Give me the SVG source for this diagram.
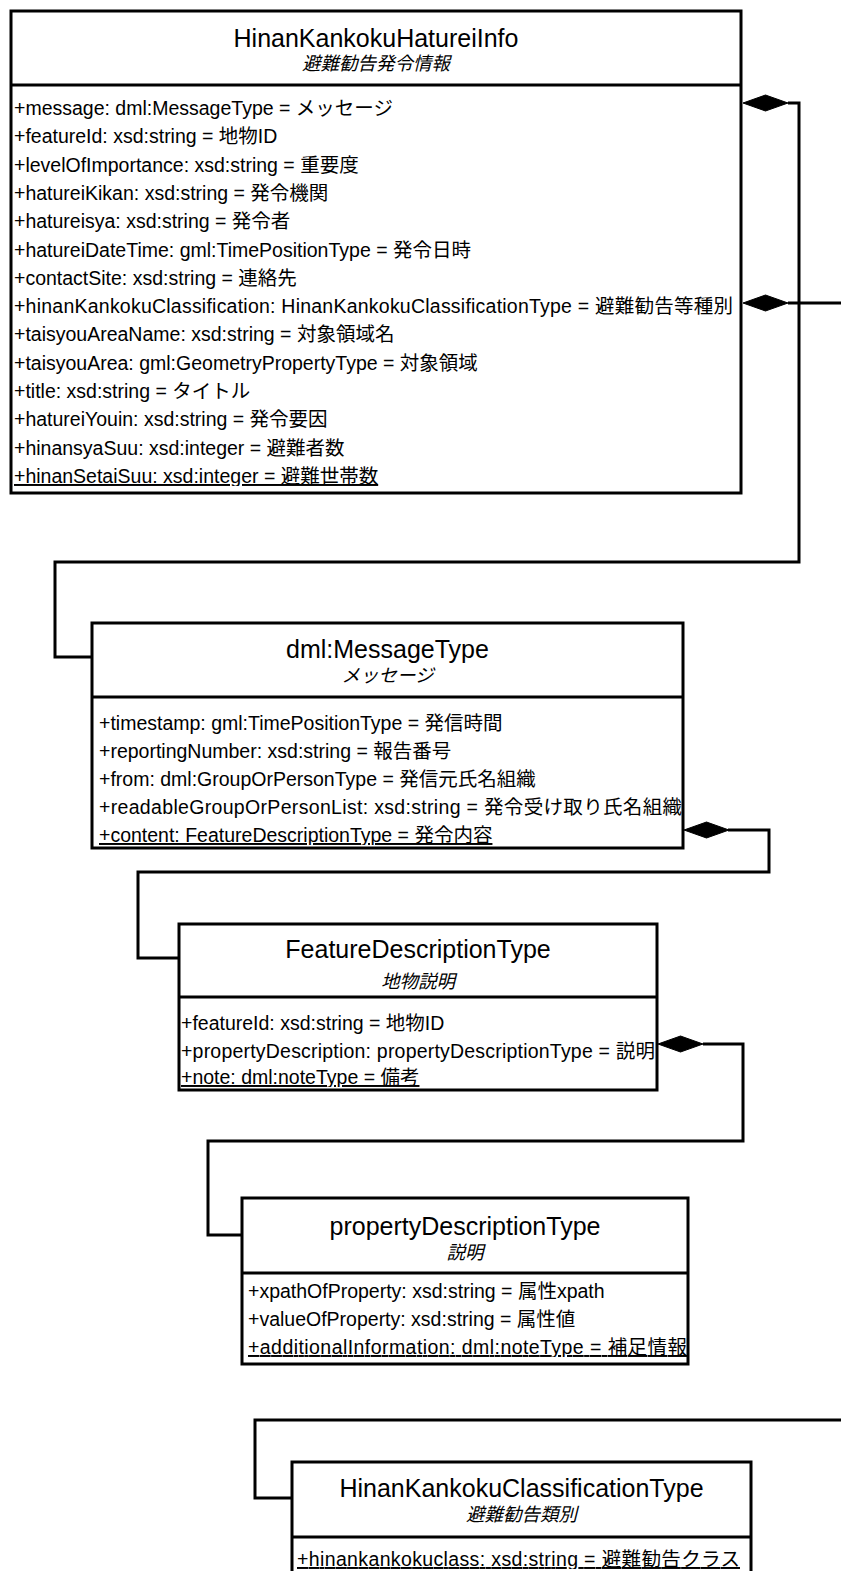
<svg xmlns="http://www.w3.org/2000/svg" xmlns:xlink="http://www.w3.org/1999/xlink" width="841" height="1571" viewBox="0 0 841 1571">
  <style>
    .box { fill: #fff; stroke: #000; stroke-width: 3; }
    .sep { stroke: #000; stroke-width: 3; }
    .conn { fill: none; stroke: #000; stroke-width: 3; }
    .dia { fill: #000; stroke: #000; stroke-width: 1; }
    text { font-family: "Liberation Sans", "Noto Sans CJK JP", sans-serif; fill: #000; }
    .t { font-size: 25px; text-anchor: middle; }
    .s { font-size: 18.5px; font-style: italic; text-anchor: middle; }
    .a { font-size: 19.5px; }
    .u { text-decoration: underline; }
  </style>
  <defs>
    <!-- filled composition diamond, tip at origin pointing left -->
    <path id="diamond" class="dia" d="M0,0 L22.5,-8 L45,0 L22.5,8 Z"/>
    <clipPath id="clip1"><rect x="11" y="11" width="730" height="475"/></clipPath>
    <clipPath id="clip2"><rect x="92" y="623" width="591" height="222"/></clipPath>
    <clipPath id="clip3"><rect x="179" y="924" width="478" height="163"/></clipPath>
    <clipPath id="clip4"><rect x="242" y="1198" width="446" height="159"/></clipPath>
    <clipPath id="clip5"><rect x="292" y="1462" width="459" height="107"/></clipPath>
  </defs>

  <rect width="841" height="1571" fill="#fff"/>

  <g id="connectors">
    <path class="conn" d="M788,103 H799 V562 H55 V657 H92"/>
    <path class="conn" d="M788,303 H860 V1420 H255 V1498 H292"/>
    <path class="conn" d="M728,830 H769 V872 H138 V958 H179"/>
    <path class="conn" d="M703,1044 H743 V1141 H208 V1235 H242"/>
    <use xlink:href="#diamond" x="743" y="103"/>
    <use xlink:href="#diamond" x="743" y="303"/>
    <use xlink:href="#diamond" x="684" y="830"/>
    <use xlink:href="#diamond" x="658" y="1044"/>
  </g>

  <g id="HinanKankokuHatureiInfo">
    <rect class="box" x="11" y="11" width="730" height="482"/>
    <line class="sep" x1="11" y1="85" x2="741" y2="85"/>
    <text class="t" x="376" y="46.5">HinanKankokuHatureiInfo</text>
    <text class="s" x="376" y="70">避難勧告発令情報</text>
    <text class="a" x="14" y="115">+message: dml:MessageType = メッセージ</text>
    <text class="a" x="14" y="143.3">+featureId: xsd:string = 地物ID</text>
    <text class="a" x="14" y="171.6">+levelOfImportance: xsd:string = 重要度</text>
    <text class="a" x="14" y="199.9">+hatureiKikan: xsd:string = 発令機関</text>
    <text class="a" x="14" y="228.2">+hatureisya: xsd:string = 発令者</text>
    <text class="a" x="14" y="256.5">+hatureiDateTime: gml:TimePositionType = 発令日時</text>
    <text class="a" x="14" y="284.8">+contactSite: xsd:string = 連絡先</text>
    <text class="a" x="14" y="313.1" textLength="719">+hinanKankokuClassification: HinanKankokuClassificationType = 避難勧告等種別</text>
    <text class="a" x="14" y="341.4">+taisyouAreaName: xsd:string = 対象領域名</text>
    <text class="a" x="14" y="369.7">+taisyouArea: gml:GeometryPropertyType = 対象領域</text>
    <text class="a" x="14" y="398">+title: xsd:string = タイトル</text>
    <text class="a" x="14" y="426.3">+hatureiYouin: xsd:string = 発令要因</text>
    <text class="a" x="14" y="454.6">+hinansyaSuu: xsd:integer = 避難者数</text>
    <text class="a u" x="14" y="483" clip-path="url(#clip1)">+hinanSetaiSuu: xsd:integer = 避難世帯数</text>
  </g>

  <g id="MessageType">
    <rect class="box" x="92" y="623" width="591" height="225"/>
    <line class="sep" x1="92" y1="697" x2="683" y2="697"/>
    <text class="t" x="387.5" y="658">dml:MessageType</text>
    <text class="s" x="387.5" y="682">メッセージ</text>
    <text class="a" x="99" y="730">+timestamp: gml:TimePositionType = 発信時間</text>
    <text class="a" x="99" y="758">+reportingNumber: xsd:string = 報告番号</text>
    <text class="a" x="99" y="786">+from: dml:GroupOrPersonType = 発信元氏名組織</text>
    <text class="a" x="99" y="814" textLength="583">+readableGroupOrPersonList: xsd:string = 発令受け取り氏名組織</text>
    <text class="a u" x="99" y="842" clip-path="url(#clip2)">+content: FeatureDescriptionType = 発令内容</text>
  </g>

  <g id="FeatureDescriptionType">
    <rect class="box" x="179" y="924" width="478" height="166"/>
    <line class="sep" x1="179" y1="997" x2="657" y2="997"/>
    <text class="t" x="418" y="958">FeatureDescriptionType</text>
    <text class="s" x="418" y="988">地物説明</text>
    <text class="a" x="181" y="1030">+featureId: xsd:string = 地物ID</text>
    <text class="a" x="181" y="1057.5" textLength="474">+propertyDescription: propertyDescriptionType = 説明</text>
    <text class="a u" x="181" y="1084" clip-path="url(#clip3)">+note: dml:noteType = 備考</text>
  </g>

  <g id="propertyDescriptionType">
    <rect class="box" x="242" y="1198" width="446" height="166"/>
    <line class="sep" x1="242" y1="1273" x2="688" y2="1273"/>
    <text class="t" x="465" y="1235">propertyDescriptionType</text>
    <text class="s" x="465" y="1259">説明</text>
    <text class="a" x="248" y="1298">+xpathOfProperty: xsd:string = 属性xpath</text>
    <text class="a" x="248" y="1326">+valueOfProperty: xsd:string = 属性値</text>
    <text class="a u" x="248" y="1354" textLength="439" clip-path="url(#clip4)">+additionalInformation: dml:noteType = 補足情報</text>
  </g>

  <g id="HinanKankokuClassificationType">
    <rect class="box" x="292" y="1462" width="459" height="115"/>
    <line class="sep" x1="292" y1="1537" x2="751" y2="1537"/>
    <text class="t" x="521.5" y="1497">HinanKankokuClassificationType</text>
    <text class="s" x="521.5" y="1521">避難勧告類別</text>
    <text class="a u" x="297" y="1566" textLength="443" clip-path="url(#clip5)">+hinankankokuclass: xsd:string = 避難勧告クラス</text>
  </g>
</svg>
